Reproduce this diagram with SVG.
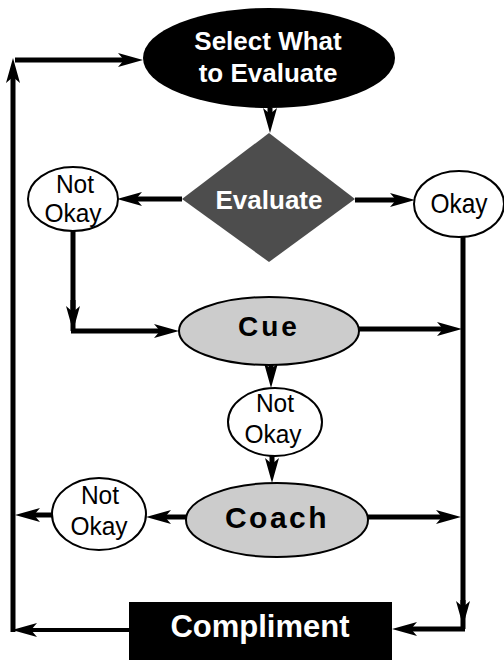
<svg xmlns="http://www.w3.org/2000/svg" width="504" height="660" viewBox="0 0 504 660">
<style>
.bw{font-family:"Liberation Sans",Arial,sans-serif;font-weight:bold;fill:#fff;text-anchor:middle}
.bb{font-family:"Liberation Sans",Arial,sans-serif;font-weight:bold;fill:#000;text-anchor:middle}
.n{font-family:"Liberation Sans",Arial,sans-serif;font-size:24.5px;fill:#000;text-anchor:middle}
.oval{fill:#fff;stroke:#000;stroke-width:2}
.gray{fill:#cccccc;stroke:#000;stroke-width:2}
.c{fill:none;stroke:#000;stroke-width:5;marker-end:url(#ah)}
.cl{fill:none;stroke:#000;stroke-width:5}
</style>
<defs>
<marker id="ah" markerUnits="userSpaceOnUse" markerWidth="25" markerHeight="14" refX="12" refY="7" orient="auto" overflow="visible">
<path d="M0,0 L25,7 L0,14 L6,7 Z" fill="#000"/>
</marker>
</defs>
<rect width="504" height="660" fill="#fff"/>
<g id="connectors">
<path class="c" d="M13,632 L13,71"/>
<path class="c" d="M15,60 L130,60"/>
<path class="c" d="M270,108 L270,120"/>
<path class="c" d="M182,199 L130,199"/>
<path class="c" d="M355,200 L402,200"/>
<path class="cl" d="M73,231 L73,331"/>
<path class="c" d="M73,300 L73,318"/>
<path class="c" d="M71,331 L166,331"/>
<path class="c" d="M358,329 L449,329"/>
<path class="cl" d="M463,237 L463,629"/>
<path class="c" d="M463,600 L463,613"/>
<path class="c" d="M465,629 L405,629"/>
<path class="c" d="M271,365 L271,375"/>
<path class="c" d="M272,456 L272,470"/>
<path class="c" d="M186,517 L159,517"/>
<path class="c" d="M52,515 L28,515"/>
<path class="c" d="M368,517 L448,517"/>
<path class="c" d="M129,630 L25,630" style="stroke-width:4"/>
</g>
<g id="select">
<ellipse cx="269" cy="58" rx="126" ry="50" fill="#000"/>
<text class="bw" x="268" y="50" font-size="26">Select What</text>
<text class="bw" x="268" y="82" font-size="26">to Evaluate</text>
</g>
<g id="evaluate">
<polygon points="269,133 355,199 269,262 182,199" fill="#4d4d4d"/>
<text class="bw" x="269" y="209" font-size="26">Evaluate</text>
</g>
<g id="notokay1">
<ellipse class="oval" cx="73" cy="199" rx="45" ry="32"/>
<text class="n" transform="translate(75,193) scale(1,1.06)">Not</text>
<text class="n" transform="translate(73,222) scale(1,1.06)">Okay</text>
</g>
<g id="okay">
<ellipse class="oval" cx="459" cy="204" rx="45" ry="33"/>
<text class="n" transform="translate(459,213) scale(1,1.1)">Okay</text>
</g>
<g id="cue">
<ellipse class="gray" cx="269" cy="331" rx="90" ry="34"/>
<text class="bb" x="269" y="336" font-size="28" letter-spacing="3">Cue</text>
</g>
<g id="notokay2">
<ellipse class="oval" cx="275" cy="422" rx="47" ry="34"/>
<text class="n" transform="translate(275,412) scale(1,1.06)">Not</text>
<text class="n" transform="translate(273,443) scale(1,1.06)">Okay</text>
</g>
<g id="coach">
<ellipse class="gray" cx="277" cy="520" rx="91" ry="37"/>
<text class="bb" x="277" y="528" font-size="30" letter-spacing="2.5">Coach</text>
</g>
<g id="notokay3">
<ellipse class="oval" cx="99" cy="514" rx="47" ry="36"/>
<text class="n" transform="translate(100,504) scale(1,1.06)">Not</text>
<text class="n" transform="translate(99,535) scale(1,1.06)">Okay</text>
</g>
<g id="compliment">
<rect x="129" y="602" width="263" height="60" fill="#000"/>
<text class="bw" x="260" y="637" font-size="31">Compliment</text>
</g>
</svg>
